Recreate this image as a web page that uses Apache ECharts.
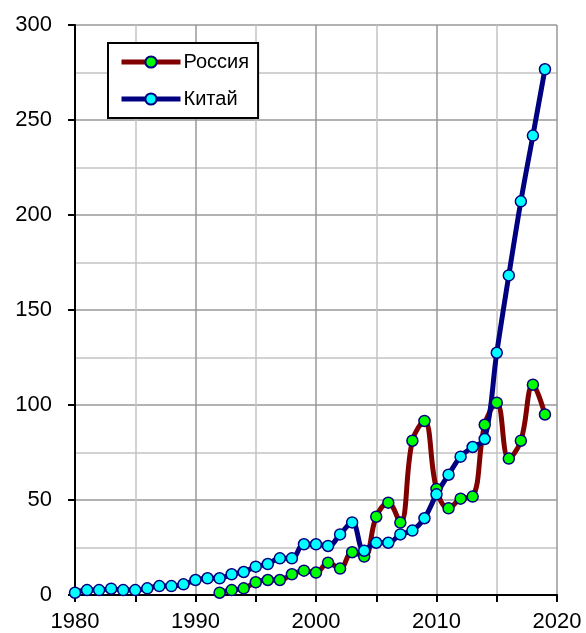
<!DOCTYPE html>
<html>
<head>
<meta charset="utf-8">
<script src="https://cdn.jsdelivr.net/npm/echarts@6/dist/echarts.min.js"></script>
<style>
  html, body { margin: 0; padding: 0; background: #fff; }
  #chart { width: 586px; height: 633px; }
</style>
</head>
<body>
<div id="chart"></div>
<script>
const years = [1980, 1981, 1982, 1983, 1984, 1985, 1986, 1987, 1988, 1989,
    1990, 1991, 1992, 1993, 1994, 1995, 1996, 1997, 1998, 1999,
    2000, 2001, 2002, 2003, 2004, 2005, 2006, 2007, 2008, 2009,
    2010, 2011, 2012, 2013, 2014, 2015, 2016, 2017, 2018, 2019]

const russia = [null, null, null, null, null, null, null, null, null, null,
    null, null, 1.2, 2.6, 3.5, 6.7, 7.9, 7.9, 10.9, 12.8,
    11.8, 17.0, 13.9, 22.5, 20.2, 41.2, 48.6, 38.1, 81.2, 91.6,
    55.8, 45.6, 50.7, 51.8, 89.6, 101.2, 71.8, 81.2, 110.7, 95.0]

const china = [1.2, 2.6, 2.6, 3.3, 2.6, 2.6, 3.5, 4.7, 4.7, 5.6,
    7.9, 8.8, 8.8, 10.9, 12.1, 14.9, 16.3, 19.3, 19.3, 26.7,
    26.7, 25.8, 31.9, 38.2, 23.3, 27.5, 27.5, 31.9, 33.9, 40.4,
    53.0, 63.3, 72.8, 77.9, 82.1, 127.5, 168.2, 207.2, 241.8, 276.7]

const font = 'Liberation Sans, Arial, sans-serif'

const makeSeries = (name, values, lineColor, fillColor) => ({
    name,
    type: 'line',
    smooth: 0.4,
    data: years.map((y, i) => [y, values[i]]),
    symbol: 'circle',
    symbolSize: 11,
    lineStyle: { color: lineColor, width: 5 },
    itemStyle: { color: fillColor, borderColor: '#000080', borderWidth: 1.5 },
    emphasis: { disabled: true }
})

let chart = echarts.init(document.getElementById('chart'))
chart.setOption({
    animation: false,
    grid: { left: 75, right: 29, top: 25, bottom: 38 },
    legend: {
        left: 108,
        top: 43,
        orient: 'vertical',
        padding: [9, 9, 9, 11],
        itemGap: 17,
        itemWidth: 59,
        itemHeight: 14,
        borderColor: '#000',
        borderWidth: 2,
        backgroundColor: '#fff',
        lineStyle: { width: 5 },
        textStyle: { fontFamily: font, fontSize: 20, color: '#000', padding: [0, 0, 0, -2] },
        data: ['Россия', 'Китай']
    },
    xAxis: {
        type: 'value',
        min: 1980,
        max: 2020,
        interval: 10,
        axisLine: { lineStyle: { color: '#000', width: 2 } },
        axisTick: { length: 7, lineStyle: { color: '#000', width: 2 } },
        minorTick: { show: true, splitNumber: 2, length: 7, lineStyle: { color: '#000', width: 2 } },
        axisLabel: { fontFamily: font, fontSize: 22, color: '#000', margin: 16, formatter: v => String(v) },
        splitLine: { lineStyle: { color: '#999', width: 1.5 } },
        minorSplitLine: { show: true, lineStyle: { color: '#c4c4c4', width: 1.5 } }
    },
    yAxis: {
        type: 'value',
        min: 0,
        max: 300,
        interval: 50,
        axisLine: { show: true, lineStyle: { color: '#000', width: 2 } },
        axisTick: { show: true, length: 7, lineStyle: { color: '#000', width: 2 } },
        minorTick: { show: true, splitNumber: 2, length: 0 },
        axisLabel: { fontFamily: font, fontSize: 22, color: '#000', margin: 23 },
        splitLine: { lineStyle: { color: '#999', width: 1.5 } },
        minorSplitLine: { show: true, lineStyle: { color: '#c4c4c4', width: 1.5 } }
    },
    series: [
        makeSeries('Россия', russia, '#800000', '#00ff00'),
        makeSeries('Китай', china, '#000080', '#00ffff')
    ]
})
</script>
</body>
</html>
